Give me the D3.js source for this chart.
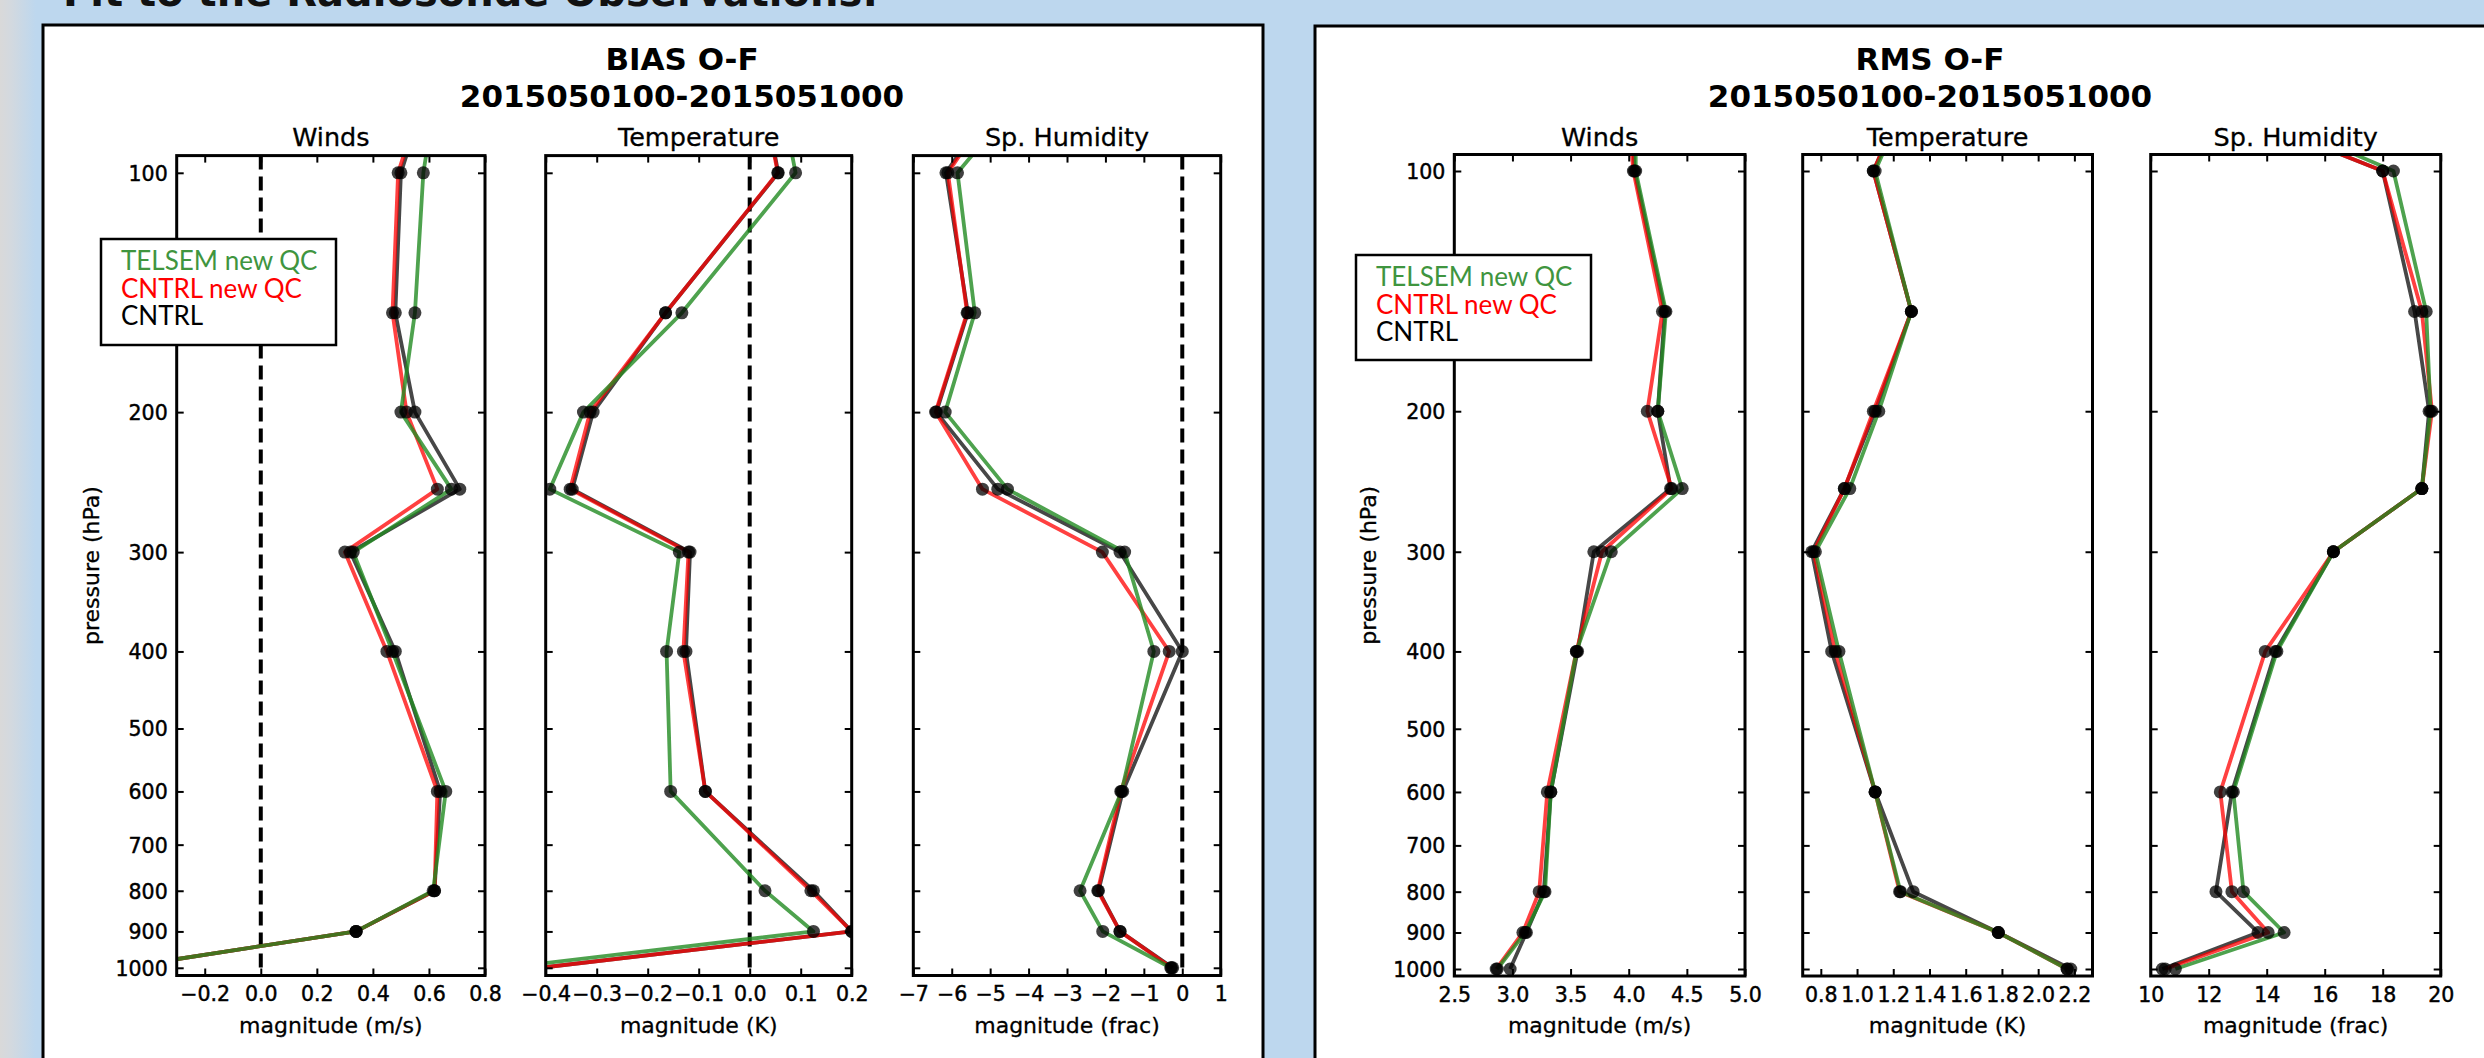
<!DOCTYPE html>
<html><head><meta charset="utf-8">
<script src="https://cdn.jsdelivr.net/npm/d3@7"></script>
<style>body{margin:0;background:#bdd7ee;} svg{display:block}</style>
</head><body><svg id="c" width="2484" height="1058"></svg>
<script>
// ---------------- DATA ----------------
const levels = [70, 100, 150, 200, 250, 300, 400, 600, 800, 900, 1000];
const pressureTicks = [100, 200, 300, 400, 500, 600, 700, 800, 900, 1000];
const seriesNames = ["TELSEM new QC", "CNTRL new QC", "CNTRL"];
const subplotTitles = ["Winds", "Temperature", "Sp. Humidity"];
const unitLabels = ["magnitude (m/s)", "magnitude (K)", "magnitude (frac)"];
const panelTitles = ["BIAS O-F", "RMS O-F"];
const dateRange = "2015050100-2015051000";
const pageTitle = "Fit to the Radiosonde Observations:";

// BIAS O-F
const biasWindsTelsem   = [0.65, 0.58, 0.55, 0.50, 0.68, 0.33, 0.47, 0.66, 0.615, 0.34, -0.50];
const biasWindsCntrlNew = [0.63, 0.49, 0.47, 0.52, 0.63, 0.30, 0.45, 0.63, 0.62, 0.34, -0.50];
const biasWindsCntrl    = [0.64, 0.50, 0.48, 0.55, 0.71, 0.32, 0.48, 0.64, 0.62, 0.34, -0.50];

const biasTempTelsem   = [0.043, 0.09, -0.133, -0.326, -0.392, -0.138, -0.163, -0.155, 0.03, 0.125, -0.48];
const biasTempCntrlNew = [0.008, 0.055, -0.165, -0.313, -0.352, -0.12, -0.13, -0.087, 0.12, 0.20, -0.41];
const biasTempCntrl    = [0.01, 0.056, -0.165, -0.307, -0.348, -0.117, -0.125, -0.087, 0.125, 0.20, -0.41];

const biasHumTelsem   = [-3.18, -5.85, -5.40, -6.17, -4.55, -1.50, -0.74, -1.58, -2.66, -2.07, -0.30];
const biasHumCntrlNew = [-3.93, -6.10, -5.60, -6.42, -5.20, -2.08, -0.34, -1.60, -2.20, -1.62, -0.28];
const biasHumCntrl    = [-3.95, -6.15, -5.58, -6.40, -4.80, -1.62, 0.00, -1.55, -2.18, -1.62, -0.25];

// RMS O-F
const rmsWindsTelsem   = [4.06, 4.06, 4.32, 4.25, 4.46, 3.85, 3.55, 3.33, 3.28, 3.11, 2.87];
const rmsWindsCntrlNew = [3.95, 4.04, 4.29, 4.16, 4.37, 3.77, 3.55, 3.30, 3.23, 3.09, 2.86];
const rmsWindsCntrl    = [4.00, 4.05, 4.31, 4.25, 4.36, 3.70, 3.56, 3.33, 3.27, 3.12, 2.98];

const rmsTempTelsem   = [1.40, 1.10, 1.30, 1.12, 0.96, 0.77, 0.90, 1.10, 1.24, 1.78, 2.16];
const rmsTempCntrlNew = [1.39, 1.09, 1.30, 1.09, 0.93, 0.76, 0.88, 1.10, 1.235, 1.78, 2.16];
const rmsTempCntrl    = [1.39, 1.09, 1.30, 1.10, 0.93, 0.75, 0.86, 1.10, 1.31, 1.78, 2.18];

const rmsHumTelsem   = [8.5, 18.37, 19.50, 19.65, 19.35, 16.3, 14.35, 12.85, 13.20, 14.60, 10.85];
const rmsHumCntrlNew = [7.3, 18.00, 19.35, 19.70, 19.35, 16.3, 13.95, 12.40, 12.80, 14.05, 10.50];
const rmsHumCntrl    = [7.3, 18.00, 19.10, 19.60, 19.35, 16.3, 14.30, 12.80, 12.25, 13.70, 10.40];

// tick values
const biasWindsTicks = [-0.2, 0.0, 0.2, 0.4, 0.6, 0.8];
const biasTempTicks  = [-0.4, -0.3, -0.2, -0.1, 0.0, 0.1, 0.2];
const biasHumTicks   = [-7, -6, -5, -4, -3, -2, -1, 0, 1];
const rmsWindsTicks  = [2.5, 3.0, 3.5, 4.0, 4.5, 5.0];
const rmsTempTicks   = [0.8, 1.0, 1.2, 1.4, 1.6, 1.8, 2.0, 2.2];
const rmsHumTicks    = [10, 12, 14, 16, 18, 20];

// ---------------- DRAWING ----------------
const svg = d3.select("#c");
const defs = svg.append("defs");
const grad = defs.append("linearGradient").attr("id","lg").attr("x1","0").attr("x2","1");
grad.append("stop").attr("offset","0").attr("stop-color","#d9d9d9");
grad.append("stop").attr("offset","0.3").attr("stop-color","#d3d9df");
grad.append("stop").attr("offset","1").attr("stop-color","#bdd7ee");
svg.append("rect").attr("width",2484).attr("height",1058).attr("fill","#bdd7ee");
svg.append("rect").attr("width",36).attr("height",1058).attr("fill","url(#lg)");

svg.append("text").attr("x",63).attr("y",6)
  .attr("font-family","DejaVu Sans").attr("font-weight","bold").attr("font-size",40)
  .attr("fill","#111").text(pageTitle);

const seriesColors = ["#000000", "#ff0000", "#228b22"]; // draw order: CNTRL, CNTRL new QC, TELSEM new QC
const seriesOpacity = [0.72, 0.75, 0.8];
const legendColors = ["#3f953f", "#ff0000", "#000000"];

const panels = [
  { title: panelTitles[0], tx: 682, box:[43,25,1220,1100], yr:[172.8,967.8], frame:[155.6,975.5], bias:true,
    legend:[101,239,235,106],
    subs:[
      {x0:176.7, x1:485,   dom:[-0.3,0.8], ticks:biasWindsTicks, fmt:".1f", data:[biasWindsCntrl,biasWindsCntrlNew,biasWindsTelsem]},
      {x0:545.7, x1:851.7, dom:[-0.4,0.2], ticks:biasTempTicks,  fmt:".1f", data:[biasTempCntrl,biasTempCntrlNew,biasTempTelsem]},
      {x0:913.3, x1:1220.7,dom:[-7,1],     ticks:biasHumTicks,   fmt:"d",   data:[biasHumCntrl,biasHumCntrlNew,biasHumTelsem]}
    ]},
  { title: panelTitles[1], tx: 1930, box:[1315,26,1300,1100], yr:[171,969], frame:[154.5,976], bias:false,
    legend:[1356,255,235,105],
    subs:[
      {x0:1454.3, x1:1745,   dom:[2.5,5.0], ticks:rmsWindsTicks, fmt:".1f", data:[rmsWindsCntrl,rmsWindsCntrlNew,rmsWindsTelsem]},
      {x0:1802.7, x1:2092.5, dom:[0.7,2.3], ticks:rmsTempTicks,  fmt:".1f", data:[rmsTempCntrl,rmsTempCntrlNew,rmsTempTelsem]},
      {x0:2150.7, x1:2440.7, dom:[10,20],   ticks:rmsHumTicks,   fmt:"d",   data:[rmsHumCntrl,rmsHumCntrlNew,rmsHumTelsem]}
    ]}
];

const FONT = "DejaVu Sans";
let clipId = 0;

panels.forEach((P) => {
  svg.append("rect").attr("x",P.box[0]).attr("y",P.box[1]).attr("width",P.box[2]).attr("height",P.box[3])
    .attr("fill","#fff").attr("stroke","#000").attr("stroke-width",3);
  svg.append("text").attr("x",P.tx).attr("y",70).attr("text-anchor","middle")
    .attr("font-family",FONT).attr("font-weight","bold").attr("font-size",31).text(P.title);
  svg.append("text").attr("x",P.tx).attr("y",107).attr("text-anchor","middle")
    .attr("font-family",FONT).attr("font-weight","bold").attr("font-size",31).text(dateRange);

  const y = d3.scaleLog().domain([100,1000]).range(P.yr);
  const top = P.frame[0], bot = P.frame[1];

  P.subs.forEach((S, si) => {
    const x = d3.scaleLinear().domain(S.dom).range([S.x0, S.x1]);
    const g = svg.append("g");
    const cid = "clip" + (clipId++);
    defs.append("clipPath").attr("id",cid).append("rect")
      .attr("x",S.x0).attr("y",top).attr("width",S.x1-S.x0).attr("height",bot-top);
    const inner = g.append("g").attr("clip-path",`url(#${cid})`);

    if (P.bias) {
      inner.append("line").attr("x1",x(0)).attr("x2",x(0)).attr("y1",top).attr("y2",bot)
        .attr("stroke","#000").attr("stroke-width",4).attr("stroke-dasharray","14,7");
    }
    const line = d3.line().x(d=>x(d[0])).y(d=>y(d[1]));
    S.data.forEach((arr, k) => {
      const pts = arr.map((v,i)=>[v, levels[i]]);
      inner.append("path").attr("d", line(pts)).attr("fill","none")
        .attr("stroke",seriesColors[k]).attr("stroke-opacity",seriesOpacity[k])
        .attr("stroke-width",3.8).attr("stroke-linejoin","round");
    });
    S.data.forEach((arr) => {
      inner.selectAll(null).data(arr.map((v,i)=>[v, levels[i]])).enter().append("circle")
        .attr("cx",d=>x(d[0])).attr("cy",d=>y(d[1])).attr("r",6.5)
        .attr("fill","#000").attr("fill-opacity",0.75);
    });

    // axes
    const fmt = d3.format(S.fmt);
    const ab = g.append("g").attr("transform",`translate(0,${bot})`)
      .call(d3.axisBottom(x).tickValues(S.ticks).tickFormat(fmt).tickSizeInner(-7).tickSizeOuter(0).tickPadding(11));
    const at = g.append("g").attr("transform",`translate(0,${top})`)
      .call(d3.axisTop(x).tickValues(S.ticks).tickFormat("").tickSizeInner(-7).tickSizeOuter(0));
    const al = g.append("g").attr("transform",`translate(${S.x0},0)`)
      .call(d3.axisLeft(y).tickValues(pressureTicks).tickFormat(si===0 ? d3.format("d") : "").tickSizeInner(-7).tickSizeOuter(0).tickPadding(9));
    const ar = g.append("g").attr("transform",`translate(${S.x1},0)`)
      .call(d3.axisRight(y).tickValues(pressureTicks).tickFormat("").tickSizeInner(-7).tickSizeOuter(0));
    [ab,at,al,ar].forEach(a => {
      a.select(".domain").remove();
      a.selectAll(".tick line").attr("stroke","#000").attr("stroke-width",2);
      a.selectAll(".tick text").attr("font-family",FONT).attr("font-size",20.5).attr("fill","#000")
        .attr("stroke","#000").attr("stroke-width",0.45);
    });
    al.selectAll(".tick text").attr("dy","0.36em");

    g.append("rect").attr("x",S.x0).attr("y",top).attr("width",S.x1-S.x0).attr("height",bot-top)
      .attr("fill","none").attr("stroke","#000").attr("stroke-width",3);

    g.append("text").attr("x",(S.x0+S.x1)/2).attr("y",146).attr("text-anchor","middle")
      .attr("font-family",FONT).attr("font-size",25.5).attr("stroke","#000").attr("stroke-width",0.3)
      .text(subplotTitles[si]);
    g.append("text").attr("x",(S.x0+S.x1)/2).attr("y",1033).attr("text-anchor","middle")
      .attr("font-family",FONT).attr("font-size",22).attr("stroke","#000").attr("stroke-width",0.3)
      .text(unitLabels[si]);

    if (si === 0) {
      g.append("text").attr("transform",`translate(${S.x0-78},${(top+bot)/2}) rotate(-90)`)
        .attr("text-anchor","middle").attr("font-family",FONT).attr("font-size",22)
        .attr("stroke","#000").attr("stroke-width",0.3).text("pressure (hPa)");
    }
  });

  // legend
  const L = P.legend;
  const lg = svg.append("g");
  lg.append("rect").attr("x",L[0]).attr("y",L[1]).attr("width",L[2]).attr("height",L[3])
    .attr("fill","#fff").attr("stroke","#000").attr("stroke-width",2.5);
  seriesNames.forEach((n,i) => {
    lg.append("text").attr("x",L[0]+20).attr("y",L[1]+31+i*27.7)
      .attr("font-family","Lato").attr("font-size",26).attr("fill",legendColors[i]).text(n);
  });
});
</script></body></html>
